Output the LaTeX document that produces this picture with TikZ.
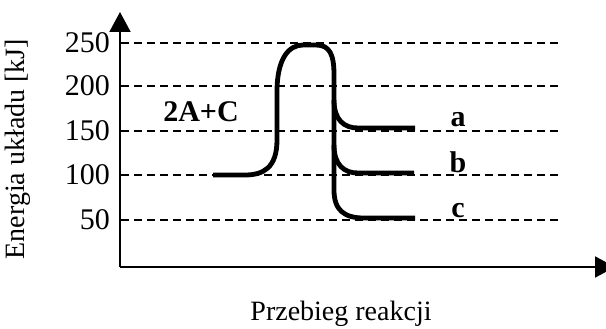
\documentclass[tikz,border=0pt]{standalone}
\usepackage{fontspec}
\setmainfont{Liberation Serif}
\usetikzlibrary{arrows.meta}
\begin{document}
\begin{tikzpicture}[x=1pt,y=-1pt,
  axis/.style={line width=2pt,-{Triangle[length=20pt,width=21pt]}},
  gridline/.style={line width=1.8pt,dash pattern=on 8pt off 5pt},
  curve/.style={line width=4.8pt,line join=round},
  lbl/.style={font=\fontsize{28}{32}\selectfont,inner sep=0pt},
  tlbl/.style={font=\fontsize{30}{34}\selectfont,inner sep=0pt},
  blbl/.style={font=\fontsize{30}{34}\selectfont\bfseries,inner sep=0pt}]
\useasboundingbox (0,0) rectangle (606,329);
% axes
\coordinate (O) at (120,267);
\coordinate (Ytip) at (120,12);
\coordinate (Xtip) at (615,267);
% grid lines
\foreach \y in {43,86,131,175,220}{
  \draw[gridline] (121,\y) -- (562,\y);
}
\draw[axis] (O) -- (Ytip);
\draw[axis] (O) -- (Xtip);
% tick labels
\node[tlbl,anchor=east] (t250) at (110,43) {250};
\node[tlbl,anchor=east] (t200) at (110,86) {200};
\node[tlbl,anchor=east] (t150) at (110,131) {150};
\node[tlbl,anchor=east] (t100) at (110,175) {100};
\node[tlbl,anchor=east] (t50) at (110,220) {50};
% axis labels
\node[lbl,anchor=base,rotate=90] (ylab) at (24,149) {Energia układu [kJ]};
\node[lbl,anchor=base] (xlab) at (341,320) {Przebieg reakcji};
% energy curve
\draw[curve] (213,175) -- (245,175)
  .. controls (263,175) and (277,168) .. (277,140)
  -- (277,92)
  .. controls (277,58) and (289,45) .. (303,45)
  -- (316,45)
  .. controls (330,45) and (334,55) .. (334,75)
  -- (334,190)
  .. controls (334,210) and (344,218) .. (364,218)
  -- (415,218);
\draw[curve] (334,100) .. controls (334,120) and (344,128) .. (358,128) -- (415,128);
\draw[curve] (334,145) .. controls (334,165) and (344,173) .. (358,173) -- (414,173);
% labels
\node[blbl,anchor=base] (r) at (201,122) {2A+C};
\node[blbl,anchor=base] (la) at (458,127) {a};
\node[blbl,anchor=base] (lb) at (458,172) {b};
\node[blbl,anchor=base] (lc) at (458,217) {c};
\end{tikzpicture}
\end{document}
